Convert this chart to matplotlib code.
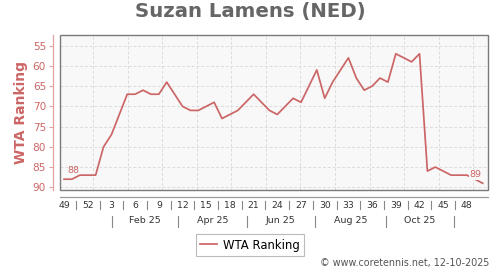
import matplotlib
matplotlib.use("Agg")
import matplotlib.pyplot as plt
from matplotlib.patches import Rectangle
import matplotlib.transforms as mtransforms

# ---- data ----
ranking = [88, 88, 87, 87, 87, 80, 77, 72, 67, 67, 66, 67, 67, 64, 67, 70,
           71, 71, 70, 69, 73, 72, 71, 69, 67, 69, 71, 72, 70, 68, 69, 65,
           61, 68, 64, 61, 58, 63, 66, 65, 63, 64, 57, 58, 59, 57, 86, 85,
           86, 87, 87, 87, 88, 89]
week_labels = ["49", "52", "3", "6", "9", "12", "15", "18", "21", "24", "27",
               "30", "33", "36", "39", "42", "45", "48"]
month_labels = ["Feb 25", "Apr 25", "Jun 25", "Aug 25", "Oct 25"]
y_ticks = [55, 60, 65, 70, 75, 80, 85, 90]
series_name = "WTA Ranking"
title = "Suzan Lamens (NED)"
credit = "\u00a9 www.coretennis.net, 12-10-2025"

# ---- layout / style ----
RED = "#cc6666"
PINK_AXIS = "#e3a3a3"
GRID = "#dcdcdc"

fig = plt.figure(figsize=(5.0, 2.7), dpi=100)
ax = fig.add_axes([60 / 500, 1 - 190 / 270, 428 / 500, 155 / 270])
ax.set_facecolor("none")

x = list(range(len(ranking)))
ax.set_xlim(-0.51, 53.67)
ax.set_ylim(90.67, 52.36)

# background and frame
ax.add_patch(Rectangle((0, 0), 1, 1, transform=ax.transAxes, facecolor="#f8f8f8",
                       edgecolor="none", zorder=0))
ax.add_patch(Rectangle((0, 0), 1, 1, transform=ax.transAxes, facecolor="none",
                       edgecolor="#7a7a7a", lw=1.0, zorder=5, clip_on=False))

# grid
for yv in y_ticks:
    ax.axhline(yv, color=GRID, lw=0.7, ls=(0, (3, 2)), zorder=1)
grid_x = [3.71 + 4.37 * k for k in range(12)]
for gx in grid_x:
    ax.axvline(gx, color=GRID, lw=0.7, ls=(0, (3, 2)), zorder=1)

# line
ax.plot(x, ranking, color=RED, lw=1.25, zorder=3, label=series_name)

# end labels
ax.annotate(str(ranking[0]), (x[0], ranking[0]), xytext=(7, 6),
            textcoords="offset points", ha="center", va="center",
            fontsize=6.8, color=RED, zorder=6)
ax.annotate(str(ranking[-1]), (x[-1], ranking[-1]), xytext=(-5, 6),
            textcoords="offset points", ha="center", va="center",
            fontsize=6.8, color=RED, zorder=6,
            bbox=dict(boxstyle="square,pad=0.1", fc="#f8f8f8", ec="none"))

# spines: separate outward axes
for s in ["top", "right"]:
    ax.spines[s].set_visible(False)
ax.spines["left"].set_position(("outward", 5))
ax.spines["left"].set_color(PINK_AXIS)
ax.spines["left"].set_linewidth(0.9)
ax.spines["bottom"].set_position(("outward", 5))
ax.spines["bottom"].set_color("#9a9a9a")
ax.spines["bottom"].set_linewidth(0.9)

ax.set_yticks(y_ticks)
ax.set_yticklabels([str(v) for v in y_ticks])
ax.tick_params(axis="y", colors=PINK_AXIS, labelcolor=RED, length=3, width=0.8,
               labelsize=7.6, pad=2)

# x axis labels (custom)
ax.set_xticks([])
week_pos = [3 * i for i in range(len(week_labels))]
trans = mtransforms.blended_transform_factory(ax.transData, ax.transAxes)
for p, lab in zip(week_pos, week_labels):
    ax.text(p, -0.097, lab, transform=trans, ha="center", va="center",
            fontsize=6.7, color="#333333", clip_on=False)
for p in week_pos[:-1]:
    ax.plot([p + 1.5, p + 1.5], [-0.069, -0.121], transform=trans, color="#888888",
            lw=0.8, clip_on=False)
month_sep = [6.04, 14.47, 23.13, 31.77, 40.72, 49.4]
for p in month_sep:
    ax.plot([p, p], [-0.168, -0.239], transform=trans, color="#888888",
            lw=0.8, clip_on=False)
for a, b, lab in zip(month_sep[:-1], month_sep[1:], month_labels):
    ax.text((a + b) / 2, -0.198, lab, transform=trans, ha="center", va="center",
            fontsize=6.8, color="#333333", clip_on=False)

ax.set_ylabel(series_name, fontsize=10, fontweight="bold", color=RED)
ax.yaxis.set_label_coords(-0.075, 0.5)

fig.text(0.5, 1 - 12 / 270, title, ha="center", va="center", fontsize=14.2,
         fontweight="bold", color="#666666")

leg = fig.legend(loc="center", bbox_to_anchor=(0.5, 1 - 245 / 270), fontsize=8.4,
                 frameon=True, fancybox=False, edgecolor="#aaaaaa",
                 handlelength=1.5, handletextpad=0.5, borderpad=0.35)
leg.get_frame().set_linewidth(0.8)

fig.text(489 / 500, 1 - 263 / 270, credit, ha="right", va="center", fontsize=6.9,
         color="#555555")

fig.savefig("out.png", dpi=100)
